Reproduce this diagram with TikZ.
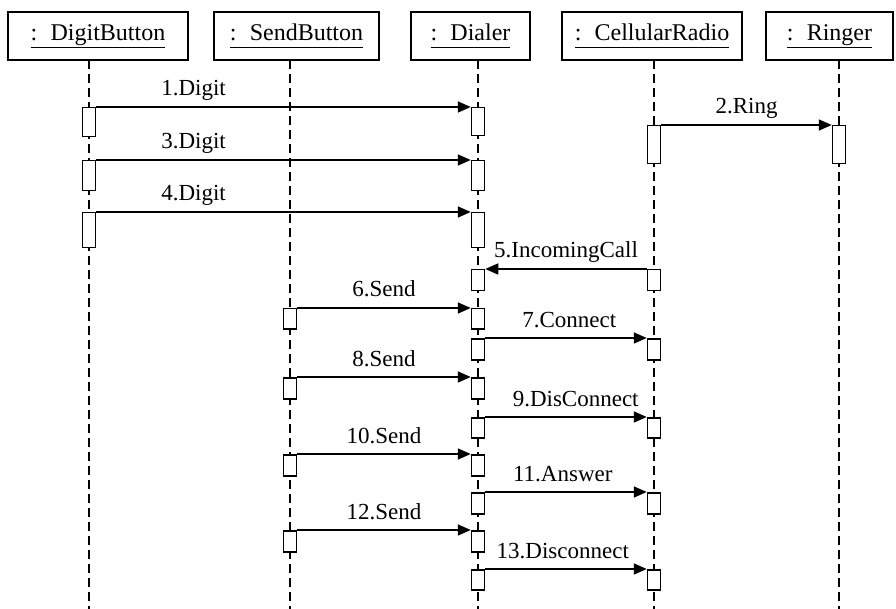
\documentclass[tikz,border=0pt]{standalone}
\usepackage{fontspec}
\setmainfont{Liberation Serif}
\usetikzlibrary{arrows.meta, positioning}
\newcommand{\objname}[1]{\underline{:\hspace{0.55em}#1\vphantom{g}}}

\begin{document}
\begin{tikzpicture}[
    x=1pt, y=-1pt,
    objbox/.style={draw, line width=1.5pt, minimum height=48pt, inner sep=2pt, font=\fontsize{24pt}{28pt}\selectfont},
    lifeline/.style={line width=1.5pt, dash pattern=on 9pt off 5pt},
    act/.style={draw, fill=white, line width=1.5pt, minimum width=13pt, minimum height=#1, inner sep=0pt, anchor=north},
    msg/.style={line width=1.6pt, -{Triangle[length=13pt, width=11pt]}},
    msglabel/.style={anchor=base, yshift=11pt, font=\fontsize{23pt}{27pt}\selectfont}
]
\useasboundingbox (0,0) rectangle (896,609);

% objects
\node[objbox, minimum width=180pt] (DB) at (98,36) {\objname{DigitButton}};
\node[objbox, minimum width=165pt] (SB) at (296.5,36) {\objname{SendButton}};
\node[objbox, minimum width=119pt] (DL) at (470.5,36) {\objname{Dialer}};
\node[objbox, minimum width=180pt] (CR) at (652,36) {\objname{CellularRadio}};
\node[objbox, minimum width=127pt] (RG) at (829.5,36) {\objname{Ringer}};

% lifelines
\foreach \n/\x in {DB/89, SB/290, DL/478, CR/654, RG/839} {
    \coordinate (\n-top) at (\x,60);
    \coordinate (\n-bot) at (\x,609);
    \draw[lifeline] (\n-top) -- (\n-bot);
}

% activations
\node[act=29pt] (DB1) at (89,107) {};
\node[act=28pt] (DL1) at (478,107) {};
\node[act=38pt] (CR2) at (654,125) {};
\node[act=38pt] (RG2) at (839,125) {};
\node[act=30pt] (DB3) at (89,160) {};
\node[act=30pt] (DL3) at (478,160) {};
\node[act=35pt] (DB4) at (89,212) {};
\node[act=35pt] (DL4) at (478,212) {};
\node[act=21pt] (CR5) at (654,269) {};
\node[act=21pt] (DL5) at (478,269) {};
\node[act=20pt] (SB6) at (290,308) {};
\node[act=20pt] (DL6) at (478,308) {};
\node[act=21pt] (DL7) at (478,338) {};
\node[act=21pt] (CR7) at (654,338) {};
\node[act=21pt] (SB8) at (290,377) {};
\node[act=21pt] (DL8) at (478,377) {};
\node[act=20pt] (DL9) at (478,417) {};
\node[act=20pt] (CR9) at (654,417) {};
\node[act=21pt] (SB10) at (290,454) {};
\node[act=21pt] (DL10) at (478,454) {};
\node[act=21pt] (DL11) at (478,492) {};
\node[act=21pt] (CR11) at (654,492) {};
\node[act=21pt] (SB12) at (290,530) {};
\node[act=21pt] (DL12) at (478,530) {};
\node[act=20pt] (DL13) at (478,569) {};
\node[act=20pt] (CR13) at (654,569) {};

% messages
\draw[msg] (DB1.north east) -- node[msglabel, pos=0.26] {1.Digit} (DL1.north west);
\draw[msg] (CR2.north east) -- node[msglabel, midway] {2.Ring} (RG2.north west);
\draw[msg] (DB3.north east) -- node[msglabel, pos=0.26] {3.Digit} (DL3.north west);
\draw[msg] (DB4.north east) -- node[msglabel, pos=0.26] {4.Digit} (DL4.north west);
\draw[msg] (CR5.north west) -- node[msglabel, midway] {5.IncomingCall} (DL5.north east);
\draw[msg] (SB6.north east) -- node[msglabel, midway] {6.Send} (DL6.north west);
\draw[msg] (DL7.north east) -- node[msglabel, pos=0.52] {7.Connect} (CR7.north west);
\draw[msg] (SB8.north east) -- node[msglabel, midway] {8.Send} (DL8.north west);
\draw[msg] (DL9.north east) -- node[msglabel, pos=0.56] {9.DisConnect} (CR9.north west);
\draw[msg] (SB10.north east) -- node[msglabel, midway] {10.Send} (DL10.north west);
\draw[msg] (DL11.north east) -- node[msglabel, pos=0.48] {11.Answer} (CR11.north west);
\draw[msg] (SB12.north east) -- node[msglabel, midway] {12.Send} (DL12.north west);
\draw[msg] (DL13.north east) -- node[msglabel, pos=0.48] {13.Disconnect} (CR13.north west);
\end{tikzpicture}
\end{document}
